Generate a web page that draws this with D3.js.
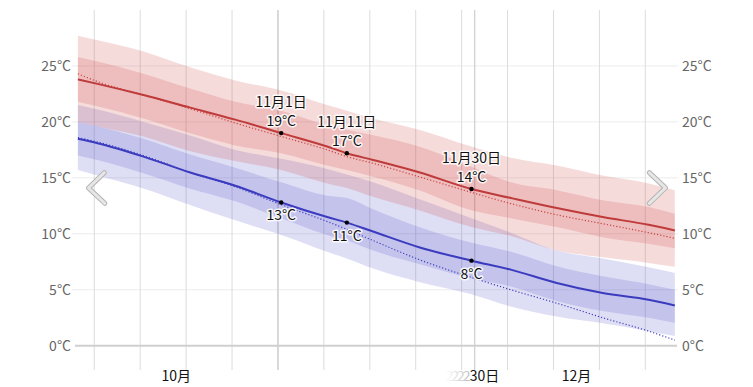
<!DOCTYPE html>
<html>
<head>
<meta charset="utf-8">
<script src="https://cdn.jsdelivr.net/npm/d3@7"></script>
<style>
  body { margin: 0; background: #fff; }
  svg { display: block; font-family: "Noto Sans CJK JP", "Noto Sans", sans-serif; }
</style>
</head>
<body>
<svg id="chart"></svg>
<script>
// sample days
const dates = ["2020-10-01", "2020-10-04", "2020-10-11", "2020-10-18", "2020-10-25", "2020-11-01",
  "2020-11-08", "2020-11-11", "2020-11-15", "2020-11-22", "2020-11-30", "2020-12-06",
  "2020-12-13", "2020-12-20", "2020-12-27", "2020-12-31"];

// daily highs
const highP90 = [27.7, 27.3, 26.3, 24.9, 23.7, 22.8, 21.5, 21.0, 20.3, 19.3, 17.8, 16.8, 16.1, 15.2, 14.5, 13.9];
const highP75 = [25.8, 25.4, 24.3, 23.0, 21.8, 21.0, 19.7, 19.3, 18.8, 17.8, 16.0, 14.6, 13.9, 13.0, 12.4, 11.8];
const highMean = [23.8, 23.4, 22.4, 21.3, 20.2, 19.0, 17.8, 17.2, 16.6, 15.5, 14.0, 13.2, 12.3, 11.5, 10.8, 10.3];
const highNormal = [24.3, 23.6, 22.4, 21.2, 19.9, 18.7, 17.5, 16.9, 16.3, 15.1, 13.7, 12.7, 11.7, 10.9, 10.1, 9.6];
const highP25 = [21.8, 21.4, 20.3, 19.0, 17.9, 17.2, 16.1, 15.7, 15.1, 13.9, 12.1, 11.4, 10.6, 9.7, 9.1, 8.7];
const highP10 = [20.0, 19.6, 18.7, 17.4, 16.5, 15.7, 14.5, 14.1, 13.3, 12.1, 10.6, 9.8, 8.5, 7.9, 7.4, 7.05];

// daily lows
const lowP90 = [21.5, 21.1, 20.0, 18.8, 17.5, 16.7, 15.8, 15.3, 14.6, 13.1, 11.4, 10.1, 8.5, 7.8, 7.0, 6.5];
const lowP75 = [20.0, 19.6, 18.5, 17.1, 15.9, 14.6, 13.4, 13.2, 12.2, 10.6, 9.2, 8.4, 7.1, 6.2, 5.5, 5.0];
const lowMean = [18.5, 18.1, 16.9, 15.5, 14.3, 12.8, 11.5, 11.0, 10.2, 8.8, 7.6, 6.8, 5.6, 4.7, 4.1, 3.6];
const lowNormal = [18.6, 18.2, 17.0, 15.5, 14.2, 12.6, 11.1, 10.4, 9.4, 7.7, 6.1, 5.0, 3.8, 2.5, 1.3, 0.5];
const lowP25 = [17.0, 16.6, 15.4, 14.05, 12.9, 11.4, 9.9, 9.4, 8.5, 7.3, 6.0, 5.3, 4.0, 3.1, 2.5, 2.05];
const lowP10 = [15.7, 15.2, 14.05, 12.6, 11.2, 9.9, 8.4, 7.8, 6.9, 5.7, 4.6, 3.5, 2.6, 2.0, 1.3, 0.87];

// callouts
const noteDates = ["2020-11-01", "2020-11-11", "2020-11-30"];
const noteHigh = [19, 17, 14];
const noteLow = [13, 11, 8];

const yTicks = [0, 5, 10, 15, 20, 25];
const monthLabels = [["2020-10-01", "10月"], ["2020-12-01", "12月"]];
const dayLabel = ["2020-12-02", "30日"];
const ghostLabel = "2222";

const width = 753, height = 387;
const parse = d3.timeParse("%Y-%m-%d");
const noon = s => d3.timeHour.offset(parse(s), 12);

const svg = d3.select("#chart").attr("width", width).attr("height", height);

const x = d3.scaleTime()
  .domain([parse("2020-10-01"), parse("2021-01-01")])
  .range([74.6, 678.1]);
const y = d3.scaleLinear()
  .domain([0, 30])
  .range([345.7, 10]);

const rows = dates.map((d, i) => ({
  date: noon(d),
  hp90: highP90[i], hp75: highP75[i], hm: highMean[i], hn: highNormal[i], hp25: highP25[i], hp10: highP10[i],
  lp90: lowP90[i], lp75: lowP75[i], lm: lowMean[i], ln: lowNormal[i], lp25: lowP25[i], lp10: lowP10[i]
}));

// grid
const grid = svg.append("g");
grid.selectAll("line.h")
  .data(yTicks.filter(t => t > 0))
  .enter().append("line")
  .attr("x1", 72).attr("x2", 678)
  .attr("y1", d => y(d)).attr("y2", d => y(d))
  .attr("stroke", "#ececec");
grid.selectAll("line.w")
  .data(d3.timeSunday.range(x.domain()[0], x.domain()[1]))
  .enter().append("line")
  .attr("x1", d => x(d)).attr("x2", d => x(d))
  .attr("y1", y(30)).attr("y2", y(-2.17))
  .attr("stroke", "#dcdcdc");
grid.selectAll("line.m")
  .data(d3.timeMonth.range(parse("2020-10-15"), x.domain()[1]))
  .enter().append("line")
  .attr("x1", d => x(d)).attr("x2", d => x(d))
  .attr("y1", y(30)).attr("y2", y(-2.17))
  .attr("stroke", "#c4c4c4");
grid.append("line")
  .attr("x1", 75).attr("x2", 677)
  .attr("y1", y(0)).attr("y2", y(0))
  .attr("stroke", "#cfcfcf").attr("stroke-width", 2);

const band = (lo, hi) => d3.area()
  .x(d => x(d.date))
  .y0(d => y(d[lo]))
  .y1(d => y(d[hi]))
  .curve(d3.curveMonotoneX);
const line = key => d3.line()
  .x(d => x(d.date))
  .y(d => y(d[key]))
  .curve(d3.curveMonotoneX);

const blueTint = "rgba(70,70,200,0.18)";
const redTint = "rgba(205,55,55,0.18)";

svg.append("path").datum(rows).attr("d", band("lp10", "lp90")).attr("fill", blueTint);
svg.append("path").datum(rows).attr("d", band("lp25", "lp75")).attr("fill", blueTint);
svg.append("path").datum(rows).attr("d", band("hp10", "hp90")).attr("fill", redTint);
svg.append("path").datum(rows).attr("d", band("hp25", "hp75")).attr("fill", redTint);

svg.append("path").datum(rows).attr("d", line("ln"))
  .attr("fill", "none").attr("stroke", "#4040c0").attr("stroke-width", 1.2).attr("stroke-dasharray", "1.2,2");
svg.append("path").datum(rows).attr("d", line("hn"))
  .attr("fill", "none").attr("stroke", "#c84444").attr("stroke-width", 1.2).attr("stroke-dasharray", "1.2,2");
svg.append("path").datum(rows).attr("d", line("lm"))
  .attr("fill", "none").attr("stroke", "#3b3bc0").attr("stroke-width", 2);
svg.append("path").datum(rows).attr("d", line("hm"))
  .attr("fill", "none").attr("stroke", "#bf3a3a").attr("stroke-width", 2);

// y axes
const fmt = d => d + "°C";
const axL = svg.append("g").attr("transform", "translate(74,0)")
  .call(d3.axisLeft(y).tickValues(yTicks).tickSize(0).tickPadding(3).tickFormat(fmt));
const axR = svg.append("g").attr("transform", "translate(679,0)")
  .call(d3.axisRight(y).tickValues(yTicks).tickSize(0).tickPadding(3).tickFormat(fmt));
[axL, axR].forEach(a => {
  a.select(".domain").remove();
  a.selectAll("text").attr("fill", "#666").style("font-size", "14px")
    .style("font-family", '"Noto Sans CJK JP", "Noto Sans", sans-serif');
});

// x labels
const defs = svg.append("defs");
const fade = defs.append("linearGradient").attr("id", "fade");
fade.append("stop").attr("offset", "0%").attr("stop-color", "#fff");
fade.append("stop").attr("offset", "100%").attr("stop-color", "#bbb");

const xl = svg.append("g").style("font-size", "14px").attr("fill", "#111");
monthLabels.forEach(([d, t]) => {
  const s = parse(d);
  const mid = new Date((s.getTime() + d3.timeMonth.offset(s, 1).getTime()) / 2);
  xl.append("text").attr("x", x(mid)).attr("y", 381).attr("text-anchor", "middle").text(t);
});
const dx = x(noon(dayLabel[0]));
xl.append("text").attr("x", dx - 16).attr("y", 381).attr("text-anchor", "end")
  .attr("fill", "url(#fade)").attr("letter-spacing", "-2px").text(ghostLabel);
xl.append("text").attr("x", dx).attr("y", 381).attr("text-anchor", "middle").text(dayLabel[1]);

// callouts
const dayFmt = d3.timeFormat("%-m月%-d日");
const notes = svg.append("g").style("font-size", "14px");
noteDates.forEach((d, i) => {
  const r = rows[dates.indexOf(d)];
  const px = x(r.date), hy = y(r.hm), ly = y(r.lm);
  const halo = sel => sel.attr("text-anchor", "middle").attr("fill", "#111")
    .attr("stroke", "rgba(255,255,255,0.85)").attr("stroke-width", 3)
    .attr("stroke-linejoin", "round").style("paint-order", "stroke");
  notes.append("text").attr("x", px).attr("y", hy - 26).call(halo).text(dayFmt(parse(d)));
  notes.append("text").attr("x", px).attr("y", hy - 7).call(halo).text(noteHigh[i] + "°C");
  notes.append("text").attr("x", px).attr("y", ly + 18).call(halo).text(noteLow[i] + "°C");
  notes.append("circle").attr("cx", px).attr("cy", hy).attr("r", 2.2).attr("fill", "#000");
  notes.append("circle").attr("cx", px).attr("cy", ly).attr("r", 2.2).attr("fill", "#000");
});

// nav chevrons
const nav = [
  "M104.3,172.7 L88.5,188 L104.8,203.3",
  "M649.3,172.7 L665.5,187.8 L649.3,203.3"
];
nav.forEach(p => {
  svg.append("path").attr("d", p).attr("fill", "none").attr("stroke", "#b3b3b3")
    .attr("stroke-width", 5).attr("stroke-linecap", "round").attr("stroke-linejoin", "round");
  svg.append("path").attr("d", p).attr("fill", "none").attr("stroke", "#e6e6e6")
    .attr("stroke-width", 3).attr("stroke-linecap", "round").attr("stroke-linejoin", "round");
});
</script>
</body>
</html>
